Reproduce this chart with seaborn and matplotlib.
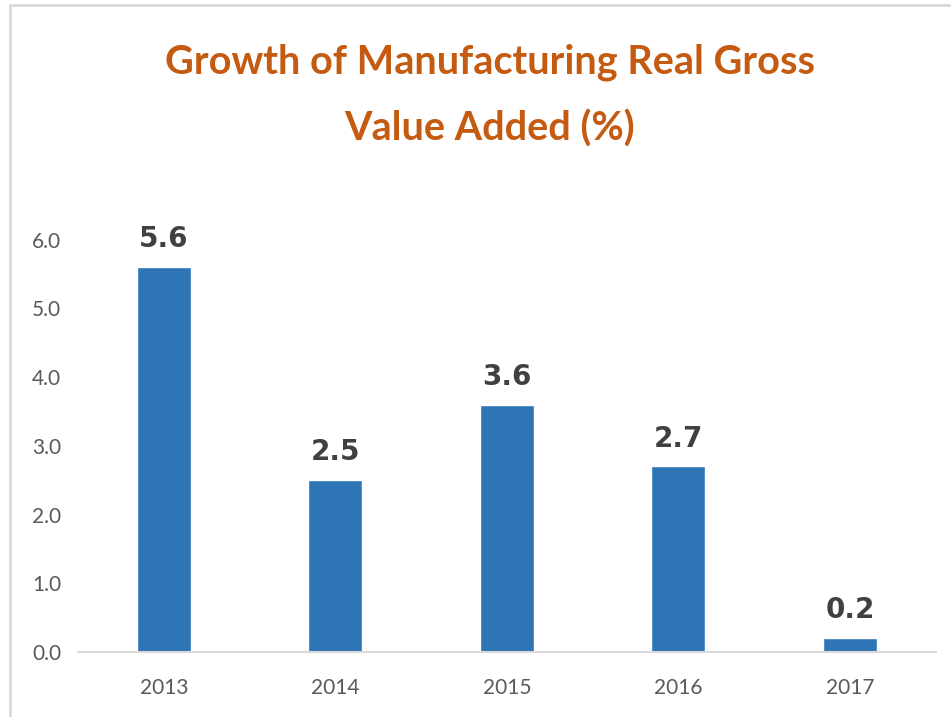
import matplotlib
matplotlib.use("Agg")
import matplotlib.pyplot as plt
from matplotlib.lines import Line2D
import seaborn as sns
import pandas as pd

years = ["2013", "2014", "2015", "2016", "2017"]
growth = [5.6, 2.5, 3.6, 2.7, 0.2]

df = pd.DataFrame({"year": years, "growth": growth})

sns.set_style("white")
plt.rcParams["font.family"] = ["Lato", "DejaVu Sans"]

fig = plt.figure(figsize=(9.51, 7.17), dpi=100)
ax = fig.add_axes([0.082, 0.0907, 0.902, 0.6708])

sns.barplot(data=df, x="year", y="growth", color="#2E75B6", saturation=1,
            width=0.315, errorbar=None, ax=ax)

for i, v in enumerate(growth):
    ax.text(i, v + 0.2, f"{v:.1f}", ha="center", va="bottom",
            fontsize=20, fontweight="bold", color="#404040",
            family="DejaVu Sans")

ax.set_ylim(0, 7)
ax.set_yticks([0, 1, 2, 3, 4, 5, 6])
ax.set_yticklabels([f"{t:.1f}" for t in range(7)])
ax.set_xlabel("")
ax.set_ylabel("")
ax.tick_params(axis="both", length=0, labelsize=15, colors="#595959")
ax.tick_params(axis="x", pad=19)
ax.tick_params(axis="y", pad=12)

for s in ["top", "right", "left"]:
    ax.spines[s].set_visible(False)
ax.spines["bottom"].set_color("#d9d9d9")
ax.spines["bottom"].set_linewidth(1.5)

fig.text(0.515, 0.913, "Growth of Manufacturing Real Gross", ha="center", va="center",
         fontsize=28.5, fontweight="bold", color="#C55A11")
fig.text(0.515, 0.821, "Value Added (%)", ha="center", va="center",
         fontsize=28.5, fontweight="bold", color="#C55A11")

# outer chart frame
fig.add_artist(Line2D([0.011, 1.0], [0.993, 0.993], color="#d9d9d9", lw=2))
fig.add_artist(Line2D([0.011, 0.011], [0.0, 0.993], color="#d9d9d9", lw=2))

fig.savefig("out.png", dpi=100)
